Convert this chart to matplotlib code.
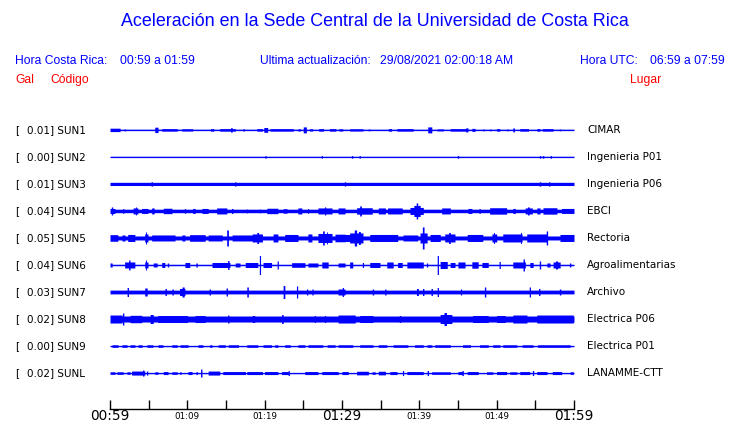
import numpy as np
import matplotlib
matplotlib.use("Agg")
import matplotlib.pyplot as plt

# estaciones, de arriba hacia abajo
codigos = ["SUN1", "SUN2", "SUN3", "SUN4", "SUN5", "SUN6", "SUN7", "SUN8", "SUN9", "SUNL"]
gal = ["0.01", "0.00", "0.01", "0.04", "0.05", "0.04", "0.03", "0.02", "0.00", "0.02"]
lugares = ["CIMAR", "Ingenieria P01", "Ingenieria P06", "EBCI", "Rectoria",
           "Agroalimentarias", "Archivo", "Electrica P06", "Electrica P01", "LANAMME-CTT"]

tick_min = list(range(0, 61, 5))
tick_lab = {0: "00:59", 10: "01:09", 20: "01:19", 30: "01:29", 40: "01:39", 50: "01:49", 60: "01:59"}
big_lab = [0, 30, 60]

# nivel de ruido base (semi-amplitud) de cada traza
base = [0.75, 0.7, 1.6, 1.75, 2.0, 0.75, 1.9, 3.0, 0.7, 0.7]

# rafagas: (minuto inicio, minuto fin, semi-amplitud)
sun1 = [(0, 1.3, 1.7), (1.8, 2.0, 1.0), (5.8, 6.2, 2.7), (6.7, 8.7, 1.3), (9.3, 10.7, 1.2),
        (13.0, 13.4, 1.3), (14.2, 16.2, 1.3), (15.6, 15.8, 2.2), (17.2, 17.4, 1.2), (19.0, 19.7, 1.3),
        (19.9, 20.4, 2.4), (20.7, 23.7, 1.3), (24.3, 24.6, 1.2), (25.0, 25.4, 3.0), (25.8, 26.2, 1.2),
        (27.0, 27.6, 1.3), (28.4, 29.2, 1.3), (29.6, 30.1, 1.2), (31.0, 32.7, 1.2), (33.4, 33.6, 1.0),
        (36.0, 36.4, 1.3), (37.1, 39.2, 1.3), (41.1, 41.6, 3.0), (42.3, 43.1, 1.1), (44.0, 46.3, 1.3),
        (46.0, 46.3, 2.0), (46.8, 47.2, 1.5), (48.2, 48.4, 1.0), (49.1, 49.3, 1.0), (50.0, 50.4, 1.3),
        (51.3, 51.5, 1.0), (52.1, 52.3, 2.0), (53.0, 54.1, 1.3), (55.2, 55.6, 1.3), (55.9, 57.3, 1.3),
        (58.1, 58.3, 1.0)]
sun2 = [(20.1, 20.1, 1.3), (27.4, 27.4, 1.3), (31.3, 31.3, 1.3), (32.3, 32.3, 1.3),
        (45.0, 45.0, 1.3), (55.6, 55.6, 1.3), (56.0, 56.0, 1.3), (57.0, 57.0, 1.3)]
sun3 = [(5.4, 5.4, 2.2), (16.2, 16.2, 2.2), (30.4, 30.4, 2.2), (55.6, 55.6, 2.2), (56.8, 56.8, 2.2)]
sun4 = [(0, 0.65, 2.5), (0.26, 0.26, 4), (1.7, 1.7, 2.3), (3.0, 3.6, 3), (3.3, 3.4, 4), (4.1, 4.9, 2.5),
        (5.4, 5.7, 3), (6.9, 8.0, 2.7), (9.7, 9.7, 2.3), (10.7, 11.0, 2.5), (11.9, 12.7, 2.5),
        (13.8, 15.1, 3), (15.8, 15.8, 2.5), (17.7, 17.7, 2), (19.4, 19.4, 2), (20.3, 21.7, 2.7),
        (22.4, 22.9, 2.3), (24.3, 24.8, 3), (25.6, 25.6, 2.3), (26.9, 28.7, 3), (27.8, 27.8, 4),
        (29.5, 30.4, 3), (31.9, 33.9, 3.2), (32.3, 32.5, 5), (34.7, 35.6, 3), (35.9, 37.8, 3),
        (38.8, 40.5, 3.5), (39.3, 40.1, 5.5), (39.6, 39.8, 8), (42.9, 44.0, 3), (46.3, 46.8, 2.5),
        (47.8, 47.8, 2.5), (49.1, 51.3, 3.2), (52.1, 52.4, 2.5), (53.7, 54.6, 3), (54.0, 54.2, 4),
        (55.2, 55.6, 3), (56.0, 57.8, 3.2), (58.4, 60, 2.5)]
sun5 = [(0, 1.0, 3.3), (1.55, 1.95, 3), (2.3, 3.2, 3.5), (4.5, 4.9, 4), (4.6, 4.7, 6), (5.4, 8.4, 3),
        (9.3, 9.7, 3), (10.3, 12.3, 3.3), (12.7, 14.5, 3), (15.1, 15.3, 8), (15.8, 18.4, 3),
        (18.4, 19.7, 4), (19.0, 19.2, 5.5), (21.1, 21.7, 4), (22.6, 24.3, 3.5), (25.6, 26.1, 4),
        (26.9, 28.7, 4.5), (27.5, 27.7, 7), (28.0, 28.1, 6), (29.1, 30.4, 3.8), (30.4, 31.0, 3.5),
        (31.0, 32.7, 5), (31.6, 31.9, 8), (32.2, 32.3, 6.5), (33.6, 37.2, 3.5), (37.9, 39.8, 3),
        (40.1, 41.0, 5), (40.4, 40.6, 11), (41.4, 42.7, 3.5), (43.3, 44.6, 4), (43.8, 44.0, 5.5),
        (46.2, 48.2, 3.5), (49.4, 50.0, 4), (49.6, 49.7, 5.5), (50.8, 53.3, 4), (53.1, 53.2, 5.5),
        (53.9, 56.5, 4), (56.5, 56.5, 7), (58.2, 60, 3.5)]
sun6 = [(0, 0.26, 2), (1.9, 3.2, 3), (2.5, 2.5, 5), (4.5, 4.9, 3), (4.6, 4.7, 5), (5.6, 6.1, 2),
        (6.7, 7.1, 2.5), (7.5, 7.5, 2), (9.7, 10.3, 2.5), (11.2, 11.2, 2), (13.2, 15.5, 2.5),
        (15.3, 15.3, 4.5), (16.2, 16.8, 2), (17.5, 19.1, 2.5), (19.4, 19.4, 9.5), (19.8, 20.9, 2.5),
        (21.7, 21.7, 4), (23.5, 25.2, 2.3), (25.6, 26.9, 2), (27.4, 28.2, 3), (29.5, 30.4, 2),
        (31.0, 31.4, 3), (32.7, 32.7, 2.5), (33.6, 34.9, 2.5), (35.8, 36.6, 3), (37.2, 37.8, 2.5),
        (38.4, 40.5, 3), (41.0, 41.0, 2), (42.4, 42.4, 9.5), (42.7, 43.6, 3.5), (44.0, 44.6, 2.5),
        (45.0, 45.9, 3), (46.8, 47.6, 3.2), (48.1, 48.9, 2.5), (50.4, 50.4, 3.5), (52.1, 53.7, 3),
        (53.5, 53.5, 6), (54.3, 54.7, 2.5), (55.6, 55.6, 4), (56.5, 56.9, 2), (57.3, 58.2, 3),
        (57.7, 57.8, 4), (59.5, 59.5, 2)]
sun7 = [(2.3, 2.3, 4.5), (4.5, 4.8, 4), (7.2, 7.2, 3.5), (8.1, 8.1, 3), (9.0, 9.7, 3.5), (9.4, 9.5, 5),
        (12.9, 12.9, 3), (15.1, 15.1, 4), (17.7, 17.9, 5), (22.4, 22.6, 6.5), (24.2, 24.2, 6),
        (25.5, 25.5, 3), (26.2, 26.2, 3), (29.5, 30.4, 3), (30.1, 30.1, 4.5), (34.0, 34.0, 3),
        (35.6, 35.6, 3), (39.7, 39.8, 3.5), (40.5, 40.5, 3.5), (41.6, 41.6, 3.5), (42.4, 42.4, 4.5),
        (45.4, 45.4, 3), (48.5, 48.5, 5), (54.3, 54.3, 5), (55.5, 55.5, 3.5), (58.2, 58.2, 3)]
sun8 = [(0, 1.55, 4), (1.7, 1.7, 6), (2.6, 4.1, 3.7), (5.2, 5.6, 4.5), (6.2, 10.0, 3.5), (11.0, 12.3, 3.5),
        (15.3, 15.3, 4), (18.4, 18.7, 3.5), (22.2, 22.4, 4.5), (26.5, 26.5, 3.5), (27.8, 27.8, 3.5),
        (29.5, 31.7, 4), (32.3, 34.0, 3.5), (37.5, 37.5, 3.5), (42.7, 44.2, 4.5), (43.2, 43.5, 6.5),
        (46.9, 48.9, 3.5), (50.0, 51.1, 3.5), (52.1, 53.9, 4), (55.2, 56.5, 4), (56.5, 59.9, 4)]
sun9 = [(0.26, 1.03, 1.3), (1.55, 2.2, 1.3), (2.59, 3.23, 1.3), (3.62, 4.14, 1.3), (4.78, 5.56, 1.3),
        (6.2, 6.85, 1.3), (8.0, 8.7, 1.3), (9.05, 10.1, 1.3), (11.4, 12.0, 1.3), (12.9, 13.2, 1.3),
        (14.0, 14.9, 1.3), (15.3, 16.6, 1.3), (17.7, 19.1, 1.3), (19.8, 20.9, 1.3), (21.3, 21.7, 1.3),
        (22.6, 23.3, 1.3), (24.3, 25.2, 1.3), (25.6, 27.5, 1.3), (28.1, 29.1, 1.3), (29.5, 31.4, 1.3),
        (32.3, 34.0, 1.3), (34.7, 35.8, 1.3), (36.6, 38.5, 1.3), (39.4, 40.5, 1.3), (41.0, 41.6, 1.3),
        (42.0, 44.0, 1.3), (45.6, 46.6, 1.3), (47.8, 48.9, 1.3), (49.5, 50.4, 1.3), (50.8, 52.6, 1.3),
        (53.3, 54.7, 1.3), (55.3, 59.5, 1.3)]
sunl = [(0, 0.65, 1.3), (0.9, 1.7, 1.3), (2.2, 2.6, 1.3), (2.8, 4.5, 2), (4.3, 4.3, 3), (4.8, 4.8, 2),
        (5.8, 6.2, 1.3), (6.9, 7.5, 1.5), (8.0, 8.7, 1.3), (9.1, 9.1, 1.3), (10.1, 10.6, 1.5),
        (11.2, 11.2, 1.5), (11.8, 11.8, 4), (12.7, 14.2, 2), (14.6, 17.5, 1.5), (17.7, 19.7, 1.5),
        (20.0, 21.7, 1.5), (22.2, 23.0, 1.5), (23.1, 23.1, 2.5), (25.2, 26.9, 1.5), (27.4, 29.5, 1.5),
        (30.0, 30.8, 1.5), (31.9, 33.4, 1.8), (33.9, 34.3, 1.3), (34.7, 35.6, 1.8), (36.2, 37.1, 1.5),
        (37.9, 37.9, 2.5), (38.4, 40.5, 1.5), (41.1, 41.1, 2.5), (41.6, 44.0, 1.3), (45.0, 45.5, 1.5),
        (45.6, 45.6, 2.5), (46.2, 47.6, 1.5), (48.7, 49.5, 1.3), (50.0, 51.3, 1.5), (51.7, 52.6, 1.3),
        (53.0, 54.3, 1.5), (54.7, 54.7, 2.5), (55.2, 56.5, 1.5), (57.2, 58.4, 1.5), (59.5, 59.9, 1.3)]
rafagas = [sun1, sun2, sun3, sun4, sun5, sun6, sun7, sun8, sun9, sunl]

azul = "#0000ff"
rojo = "#ff0000"
W, H = 740, 423
fig = plt.figure(figsize=(W / 100, H / 100), dpi=100)
fig.patch.set_facecolor("white")

def px(x, y):
    return x / W, 1 - y / H

# ejes: x 110..574 px, filas cada 27 px
ax = fig.add_axes([110 / W, 1 - 409 / H, 464 / W, 291 / H])
sep = 27.0
ax.set_xlim(0, 60)
ax.set_ylim(sep * 10.33, -sep * 0.44)

t = np.arange(0, 60.001, 0.02)
for i, (b, raf) in enumerate(zip(base, rafagas)):
    env = np.full_like(t, b)
    for t0, t1, a in raf:
        if t1 - t0 < 0.1:
            t0, t1 = t0 - 0.08, t1 + 0.08
        m = (t >= t0) & (t <= t1)
        env[m] = np.maximum(env[m], a)
    y0 = i * sep
    ax.fill_between(t, y0 - env, y0 + env, color=azul, lw=0, step="mid", antialiased=False)

for s in ["left", "right", "top"]:
    ax.spines[s].set_visible(False)
ax.spines["bottom"].set_color("black")
ax.spines["bottom"].set_linewidth(1.0)
ax.set_yticks([])
ax.set_xticks(tick_min)
ax.set_xticklabels([])
ax.tick_params(axis="x", direction="in", length=6.5, width=1.0, color="black")
for m, lab in tick_lab.items():
    fs = 9.8 if m in big_lab else 6.3
    ax.text(m, -7 / 291, lab, transform=ax.get_xaxis_transform(), ha="center", va="center",
            fontsize=fs, family="DejaVu Sans", color="black")

# etiquetas de cada traza
for i in range(len(codigos)):
    yy = 130 + i * sep
    fig.text(*px(15, yy), "[", fontsize=7.5, family="DejaVu Sans", va="center", ha="left")
    fig.text(*px(27, yy), gal[i] + "] " + codigos[i], fontsize=7.5, family="DejaVu Sans",
             va="center", ha="left")
    fig.text(*px(587, yy), lugares[i], fontsize=7.5, family="DejaVu Sans", va="center", ha="left")

# encabezado
hf = "Liberation Sans"
fig.text(*px(375, 22), "Aceleración en la Sede Central de la Universidad de Costa Rica",
         fontsize=12.9, family=hf, color=azul, ha="center", va="center")
fig.text(*px(15, 61), "Hora Costa Rica:", fontsize=8.7, family=hf, color=azul, va="center")
fig.text(*px(120, 61), "00:59 a 01:59", fontsize=8.7, family=hf, color=azul, va="center")
fig.text(*px(260, 61), "Ultima actualización:", fontsize=8.7, family=hf, color=azul, va="center")
fig.text(*px(380, 61), "29/08/2021 02:00:18 AM", fontsize=8.7, family=hf, color=azul, va="center")
fig.text(*px(580, 61), "Hora UTC:", fontsize=8.7, family=hf, color=azul, va="center")
fig.text(*px(725, 61), "06:59 a 07:59", fontsize=8.7, family=hf, color=azul, va="center", ha="right")
fig.text(*px(15, 80), "Gal", fontsize=8.7, family=hf, color=rojo, va="center")
fig.text(*px(50, 80), "Código", fontsize=8.7, family=hf, color=rojo, va="center")
fig.text(*px(630, 80), "Lugar", fontsize=8.7, family=hf, color=rojo, va="center", ha="left")

fig.savefig("out.png", dpi=100, facecolor="white")
